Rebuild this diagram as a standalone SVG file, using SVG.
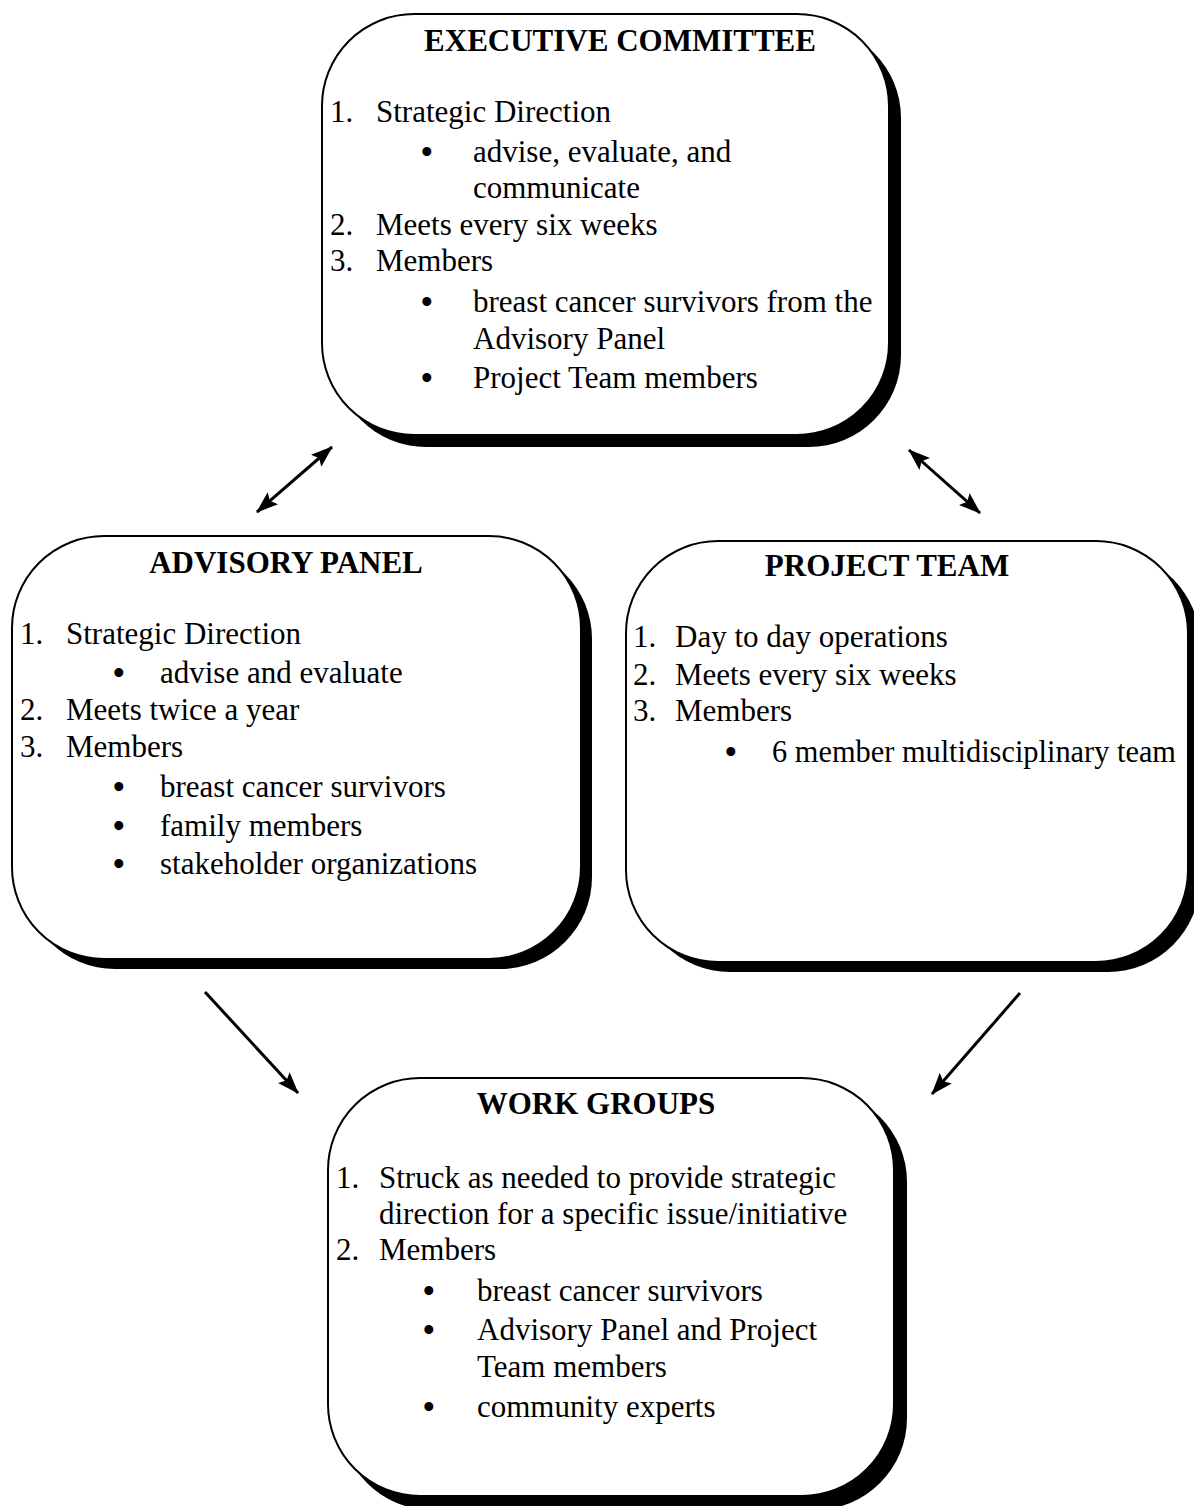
<svg xmlns="http://www.w3.org/2000/svg" width="1194" height="1506" viewBox="0 0 1194 1506">
<style>
  text { font-family: "Liberation Serif", "Times New Roman", serif; font-size: 31px; fill: #000; }
  .title { font-weight: bold; text-anchor: middle; }
  .b { font-size: 33px; font-weight: bold; }
  .shadow { fill: #000; }
  .box { fill: #fff; stroke: #000; stroke-width: 2; }
  .conn { stroke: #000; stroke-width: 3; fill: none; }
</style>
<defs>
  <marker id="head" viewBox="0 0 22 16" refX="21" refY="8" markerWidth="22" markerHeight="16" markerUnits="userSpaceOnUse" orient="auto-start-reverse">
    <path d="M0,0 L22,8 L0,16 L4,8 z" fill="#000"/>
  </marker>
</defs>
<rect width="1194" height="1506" fill="#fff"/>

<g id="executive-committee">
  <rect class="shadow" x="334" y="26" width="567" height="421" rx="92" ry="92"/>
  <rect class="box" x="322" y="14" width="567" height="421" rx="92" ry="92"/>
  <text class="title" x="620" y="51">EXECUTIVE COMMITTEE</text>
  <text x="330" y="122">1.</text><text x="376" y="122">Strategic Direction</text>
  <text class="b" x="421" y="163">•</text><text x="473" y="162">advise, evaluate, and</text>
  <text x="473" y="198">communicate</text>
  <text x="330" y="235">2.</text><text x="376" y="235">Meets every six weeks</text>
  <text x="330" y="271">3.</text><text x="376" y="271">Members</text>
  <text class="b" x="421" y="313">•</text><text x="473" y="312">breast cancer survivors from the</text>
  <text x="473" y="349">Advisory Panel</text>
  <text class="b" x="421" y="389">•</text><text x="473" y="388">Project Team members</text>
</g>

<g id="advisory-panel">
  <rect class="shadow" x="23" y="547" width="569" height="422" rx="92" ry="92"/>
  <rect class="box" x="12" y="536" width="569" height="423" rx="92" ry="92"/>
  <text class="title" x="286" y="573">ADVISORY PANEL</text>
  <text x="20" y="644">1.</text><text x="66" y="644">Strategic Direction</text>
  <text class="b" x="113" y="684">•</text><text x="160" y="683">advise and evaluate</text>
  <text x="20" y="720">2.</text><text x="66" y="720">Meets twice a year</text>
  <text x="20" y="757">3.</text><text x="66" y="757">Members</text>
  <text class="b" x="113" y="798">•</text><text x="160" y="797">breast cancer survivors</text>
  <text class="b" x="113" y="837">•</text><text x="160" y="836">family members</text>
  <text class="b" x="113" y="875">•</text><text x="160" y="874">stakeholder organizations</text>
</g>

<g id="project-team">
  <rect class="shadow" x="638" y="552" width="562" height="420" rx="92" ry="92"/>
  <rect class="box" x="626" y="541" width="562" height="421" rx="92" ry="92"/>
  <text class="title" x="887" y="576">PROJECT TEAM</text>
  <text x="633" y="647">1.</text><text x="675" y="647">Day to day operations</text>
  <text x="633" y="685">2.</text><text x="675" y="685">Meets every six weeks</text>
  <text x="633" y="721">3.</text><text x="675" y="721">Members</text>
  <text class="b" x="725" y="763">•</text><text x="772" y="762" textLength="404" lengthAdjust="spacingAndGlyphs">6 member multidisciplinary team</text>
</g>

<g id="work-groups">
  <rect class="shadow" x="340" y="1090" width="567" height="420" rx="92" ry="92"/>
  <rect class="box" x="328" y="1078" width="566" height="418" rx="92" ry="92"/>
  <text class="title" x="596" y="1114">WORK GROUPS</text>
  <text x="336" y="1188">1.</text><text x="379" y="1188">Struck as needed to provide strategic</text>
  <text x="379" y="1224">direction for a specific issue/initiative</text>
  <text x="336" y="1260">2.</text><text x="379" y="1260">Members</text>
  <text class="b" x="423" y="1302">•</text><text x="477" y="1301">breast cancer survivors</text>
  <text class="b" x="423" y="1341">•</text><text x="477" y="1340">Advisory Panel and Project</text>
  <text x="477" y="1377">Team members</text>
  <text class="b" x="423" y="1418">•</text><text x="477" y="1417">community experts</text>
</g>

<g id="connectors">
  <line class="conn" x1="257" y1="512" x2="332" y2="447" marker-start="url(#head)" marker-end="url(#head)"/>
  <line class="conn" x1="909" y1="450" x2="980" y2="513" marker-start="url(#head)" marker-end="url(#head)"/>
  <line class="conn" x1="205" y1="992" x2="298" y2="1093" marker-end="url(#head)"/>
  <line class="conn" x1="1020" y1="993" x2="932" y2="1094" marker-end="url(#head)"/>
</g>
</svg>
